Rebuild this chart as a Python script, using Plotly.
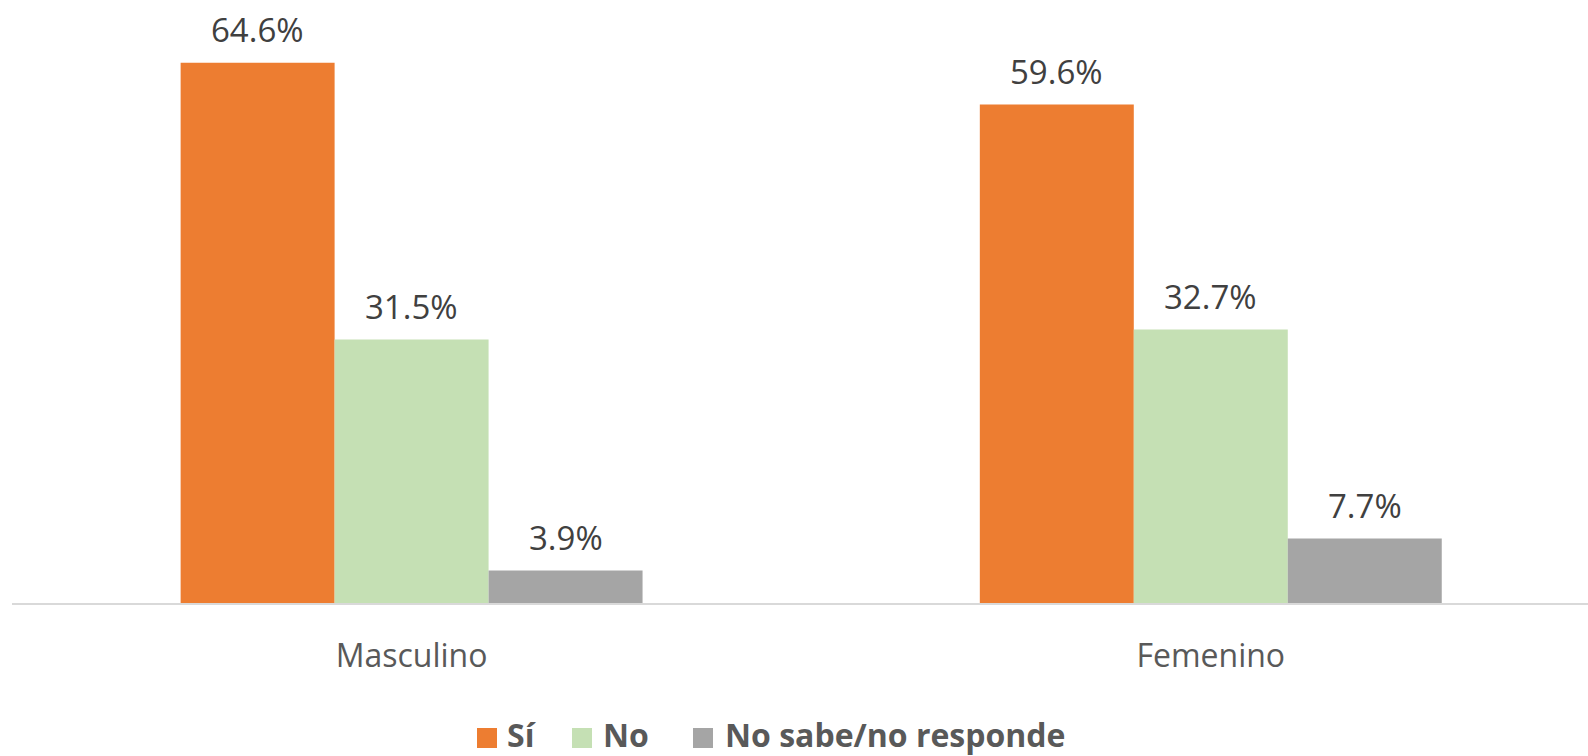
import plotly.graph_objects as go

categories = ["Masculino", "Femenino"]
series_names = ["Sí", "No", "No sabe/no responde"]
si_values = [64.6, 59.6]
no_values = [31.5, 32.7]
ns_values = [3.9, 7.7]
colors = ["#ED7D31", "#C5E0B4", "#A5A5A5"]

all_values = [si_values, no_values, ns_values]

BARGAP = 0.422
bar_w = (1 - BARGAP) / 3

# plot-area geometry (pixels) used for the custom legend placement
W, H = 1588, 756
ML, MR, MT, MB = 12, 0, 0, 153
PW, PH = W - ML - MR, H - MT - MB


def px_x(px):
    return (px - ML) / PW


def px_y(py):
    return (H - MB - py) / PH


fig = go.Figure()
for name, vals, col in zip(series_names, all_values, colors):
    fig.add_trace(go.Bar(
        x=categories, y=vals, name=name, showlegend=False,
        marker=dict(color=col, line=dict(width=0)),
    ))

annotations = []
for i, vals in enumerate(all_values):
    off = (i - 1) * bar_w
    for j, v in enumerate(vals):
        annotations.append(dict(
            x=j + off, y=v, xref="x", yref="y",
            text=f"{v:.1f}%", showarrow=False,
            yanchor="middle", yshift=33,
            font=dict(family="Open Sans", size=33, color="#404040"),
        ))

# custom legend
legend_square_left = [477, 572, 693]
legend_text_left = [506, 602, 724]
legend_text_cy = 735
legend_sq_cy = 738
sq = 20
shapes = []
for name, col, sx, tx in zip(series_names, colors, legend_square_left, legend_text_left):
    shapes.append(dict(
        type="rect", xref="paper", yref="paper",
        x0=px_x(sx), x1=px_x(sx + sq),
        y0=px_y(legend_sq_cy + sq / 2), y1=px_y(legend_sq_cy - sq / 2),
        fillcolor=col, line=dict(width=0),
    ))
    annotations.append(dict(
        x=px_x(tx), y=px_y(legend_text_cy), xref="paper", yref="paper",
        xanchor="left", yanchor="middle", showarrow=False, borderpad=0,
        text=f"<b>{name}</b>",
        font=dict(family="Open Sans", size=32, color="#595959"),
    ))

fig.update_layout(
    width=W, height=H,
    margin=dict(l=ML, r=MR, t=MT, b=MB),
    paper_bgcolor="white", plot_bgcolor="white",
    barmode="group", bargap=BARGAP, bargroupgap=0,
    annotations=annotations,
    shapes=shapes,
    showlegend=False,
    xaxis=dict(
        range=[-0.5, 1.472], showgrid=False, zeroline=False,
        showline=True, linecolor="#D9D9D9", linewidth=2,
        ticks="", ticklabelstandoff=24,
        tickfont=dict(family="Open Sans", size=32, color="#595959"),
    ),
    yaxis=dict(
        range=[0, 72.1], visible=False, showgrid=False, zeroline=False,
    ),
)

fig.write_html("out.html", config={"displayModeBar": False},
               post_script="document.body.style.margin='0';")
